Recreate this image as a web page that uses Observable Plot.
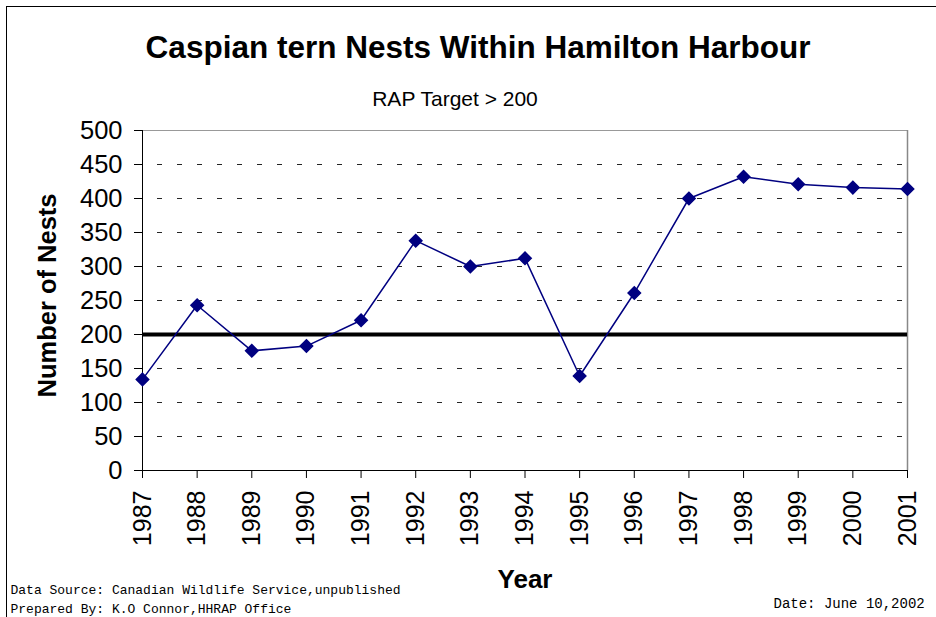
<!DOCTYPE html>
<html>
<head>
<meta charset="utf-8">
<script src="https://cdn.jsdelivr.net/npm/d3@7"></script>
<script src="https://cdn.jsdelivr.net/npm/@observablehq/plot@0.6"></script>
<style>
  html, body { margin: 0; padding: 0; background: #fff; }
  #wrap { position: relative; width: 936px; height: 617px; overflow: hidden; }
  #border { position: absolute; left: 6px; top: 6px; width: 960px; height: 640px; border: 1px solid #000; pointer-events: none; }
</style>
</head>
<body>
<div id="wrap"><div id="border"></div><div id="chart"></div></div>
<script>
const years = [1987, 1988, 1989, 1990, 1991, 1992, 1993, 1994, 1995, 1996, 1997, 1998, 1999, 2000, 2001];
const nests = [134, 243, 176, 183, 221, 338, 300, 312, 139, 261, 400, 432, 421, 416, 414];
const yTicks = [0, 50, 100, 150, 200, 250, 300, 350, 400, 450, 500];
const gridValues = [50, 100, 150, 250, 300, 350, 400, 450];
const target = [200];
const title = "Caspian tern Nests Within Hamilton Harbour";
const subtitle = "RAP Target > 200";
const yLabel = "Number of Nests";
const xLabel = "Year";
const source = "Data Source: Canadian Wildlife Service,unpublished";
const prepared = "Prepared By: K.O Connor,HHRAP Office";
const dateText = "Date: June 10,2002";

const data = years.map((y, i) => ({year: y, nests: nests[i]}));
const font = "Liberation Sans, Arial, Helvetica, sans-serif";
const mono = "Liberation Mono, Courier New, monospace";

const chart = Plot.plot({
  width: 936,
  height: 617,
  marginLeft: 142,
  marginRight: 29,
  marginTop: 130,
  marginBottom: 147,
  style: {fontFamily: font, background: "transparent", overflow: "visible"},
  x: {domain: [1987, 2001]},
  y: {domain: [0, 500]},
  marks: [
    Plot.ruleY(gridValues, {stroke: "#000", strokeDasharray: "5,15", strokeDashoffset: -15, strokeWidth: 1, strokeOpacity: 0.85}),
    Plot.ruleY([500], {stroke: "#999", strokeWidth: 1}),
    Plot.ruleX([2001], {stroke: "#888", strokeWidth: 1.5}),
    Plot.ruleY([0], {stroke: "#000", strokeWidth: 1}),
    Plot.ruleX([1987], {stroke: "#000", strokeWidth: 1}),
    Plot.ruleY(target, {stroke: "#000", strokeWidth: 4}),
    Plot.axisY({ticks: yTicks, tickSize: 8, tickPadding: 12, fontSize: 25.5, label: null, stroke: "#000"}),
    Plot.axisX({ticks: years, tickFormat: d => String(d), tickRotate: -90, tickSize: 8, tickPadding: 12, fontSize: 25, label: null}),
    Plot.line(data, {x: "year", y: "nests", stroke: "#000080", strokeWidth: 1.5}),
    Plot.dot(data, {x: "year", y: "nests", symbol: "diamond2", r: 5.6, fill: "#000080", stroke: "#000080"}),
    Plot.text([title], {text: d => d, frameAnchor: "top", dx: -47, dy: -83, lineAnchor: "middle", fontSize: 31.5, fontWeight: "bold", fill: "#000"}),
    Plot.text([subtitle], {text: d => d, frameAnchor: "top", dx: -70, dy: -31, lineAnchor: "middle", fontSize: 21, fill: "#000"}),
    Plot.text([yLabel], {text: d => d, frameAnchor: "left", rotate: -90, dx: -95, dy: -5, lineAnchor: "middle", textAnchor: "middle", fontSize: 25.5, fontWeight: "bold", fill: "#000"}),
    Plot.text([xLabel], {text: d => d, frameAnchor: "bottom", dx: 0, dy: 109, lineAnchor: "middle", fontSize: 26, fontWeight: "bold", fill: "#000"}),
    Plot.text([source], {text: d => d, frameAnchor: "bottom-left", textAnchor: "start", dx: -132, dy: 119, lineAnchor: "middle", fontSize: 13, fontFamily: mono, fill: "#000"}),
    Plot.text([prepared], {text: d => d, frameAnchor: "bottom-left", textAnchor: "start", dx: -132, dy: 138, lineAnchor: "middle", fontSize: 13, fontFamily: mono, fill: "#000"}),
    Plot.text([dateText], {text: d => d, frameAnchor: "bottom-right", textAnchor: "start", dx: -134, dy: 133, lineAnchor: "middle", fontSize: 14, fontFamily: mono, fill: "#000"})
  ]
});
document.getElementById("chart").appendChild(chart);
</script>
</body>
</html>
